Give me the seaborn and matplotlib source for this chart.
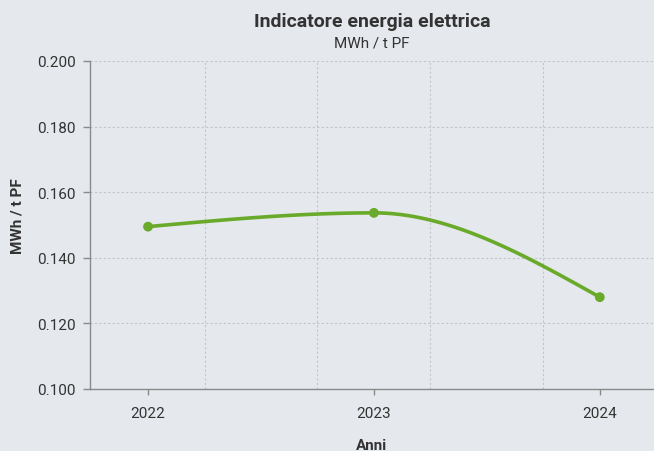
import numpy as np
import pandas as pd
import seaborn as sns
import matplotlib.pyplot as plt
from matplotlib.ticker import FixedLocator

# Data
anni = ["2022", "2023", "2024"]
valori = [0.1495, 0.1537, 0.1280]

title = "Indicatore energia elettrica"
subtitle = "MWh / t PF"
y_label = "MWh / t PF"
x_label = "Anni"

bg = "#e5e8ec"
green = "#6aaa2a"
text_col = "#333333"
axis_col = "#8a8a8a"


def monotone_curve(x, y, n=60):
    # monotone cubic (d3 monotoneX style) for the smooth line
    x = np.asarray(x, float)
    y = np.asarray(y, float)
    h = np.diff(x)
    s = np.diff(y) / h
    m = np.zeros_like(y)
    for i in range(1, len(y) - 1):
        if s[i - 1] * s[i] <= 0:
            m[i] = 0
        else:
            p = (s[i - 1] * h[i] + s[i] * h[i - 1]) / (h[i - 1] + h[i])
            m[i] = (np.sign(s[i - 1]) + np.sign(s[i])) * min(abs(s[i - 1]), abs(s[i]), 0.5 * abs(p))
    m[0] = (3 * s[0] - m[1]) / 2
    m[-1] = (3 * s[-1] - m[-2]) / 2
    xs, ys = [], []
    for i in range(len(h)):
        t = np.linspace(0, 1, n)
        h00 = 2 * t**3 - 3 * t**2 + 1
        h10 = t**3 - 2 * t**2 + t
        h01 = -2 * t**3 + 3 * t**2
        h11 = t**3 - t**2
        xs.append(x[i] + t * h[i])
        ys.append(h00 * y[i] + h10 * h[i] * m[i] + h01 * y[i + 1] + h11 * h[i] * m[i + 1])
    return np.concatenate(xs), np.concatenate(ys)


df = pd.DataFrame({"pos": np.arange(len(anni)), "anno": anni, "valore": valori})
cx, cy = monotone_curve(df["pos"], df["valore"])
curve = pd.DataFrame({"pos": cx, "valore": cy})

sns.set_theme(style="white")
plt.rcParams["font.family"] = ["Roboto", "DejaVu Sans"]

fig = plt.figure(figsize=(6.54, 4.52), dpi=100, facecolor=bg)
ax = fig.add_axes([90 / 654, 1 - 390 / 452, 1 - 90 / 654, 328 / 452])
ax.set_facecolor(bg)

sns.lineplot(data=curve, x="pos", y="valore", ax=ax, color=green, linewidth=2.6, sort=False)
sns.scatterplot(data=df, x="pos", y="valore", ax=ax, color=green, s=50, edgecolor="none", zorder=5)

ax.set_xlim(-0.257, 2.24)
ax.set_ylim(0.1, 0.2)
ax.set_xticks(df["pos"])
ax.set_xticklabels(anni)
ax.xaxis.set_minor_locator(FixedLocator([0.25, 0.75, 1.25, 1.75]))
ax.set_yticks(np.arange(0.1, 0.2001, 0.02))
ax.set_yticklabels([f"{v:.3f}" for v in np.arange(0.1, 0.2001, 0.02)])

ax.grid(which="minor", axis="x", color="#c2c4c8", linestyle=(0, (2, 2)), linewidth=0.8)
ax.grid(which="major", axis="y", color="#c2c4c8", linestyle=(0, (2, 2)), linewidth=0.8)
ax.set_axisbelow(True)

for side in ["top", "right"]:
    ax.spines[side].set_visible(False)
for side in ["left", "bottom"]:
    ax.spines[side].set_color(axis_col)
    ax.spines[side].set_linewidth(1.0)

ax.tick_params(axis="both", which="major", bottom=True, left=True, width=1, color=axis_col,
               labelsize=11, labelcolor=text_col)
ax.tick_params(axis="x", which="minor", length=0)
ax.tick_params(axis="x", which="major", length=4, pad=8.5)
ax.tick_params(axis="y", which="major", length=5, pad=5.5)

ax.set_xlabel(x_label, fontsize=11, fontweight="bold", color=text_col, labelpad=13)
ax.set_ylabel(y_label, fontsize=11, fontweight="bold", color=text_col, labelpad=9)
ax.yaxis.set_label_coords(-0.117, 0.53)

fig.text(372 / 654, 1 - 27 / 452, title, ha="center", va="baseline",
         fontsize=14, fontweight="bold", color=text_col)
fig.text(372 / 654, 1 - 48 / 452, subtitle, ha="center", va="baseline",
         fontsize=11, color=text_col)

fig.savefig("out.png", dpi=100, facecolor=bg)
